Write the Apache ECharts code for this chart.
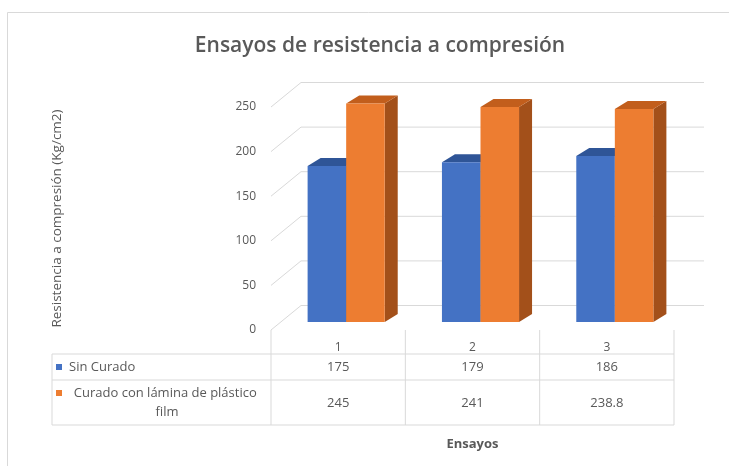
<!DOCTYPE html>
<html>
<head>
<meta charset="utf-8">
<script src="https://cdn.jsdelivr.net/npm/echarts@6/dist/echarts.min.js"></script>
<style>
  html, body { margin: 0; padding: 0; background: #fff; }
  #chart { width: 729px; height: 466px; }
</style>
</head>
<body>
<div id="chart"></div>
<script>
// Ensayos de resistencia a compresión — 3D clustered columns with a data table
const categories = ['1', '2', '3'];
const sinCurado = [175, 179, 186];
const curadoFilm = [245, 241, 238.8];
const seriesNames = ['Sin Curado', 'Curado con lámina de plástico film'];
const yTicks = [0, 50, 100, 150, 200, 250];

const FONT = '"Open Sans", sans-serif';
const TEXT = '#595959';
const LINE = '#d9d9d9';

// Oblique projection: offsets (px) from the front axis plane
const WALL_D = [30, -24.5];   // back wall
const BAR_FRONT = [8, -8];    // front face of the columns
const BAR_DEPTH = [13, -8];   // column depth
const BAR_W = 0.287;          // share of a category band per column

const palette = [
  { front: '#4472C4', top: '#2F5597', side: '#25477F' },
  { front: '#ED7D31', top: '#C25E1C', side: '#A3501A' }
];
const seriesValues = [sinCurado, curadoFilm];

// Data table geometry, relative to the bottom of the plot (px)
const TABLE_LEFT = 52;
const ROW_LINES = [24, 50, 95];
const ROW_TEXT = [37, 73];
const TABLE_FONT = '13px ' + FONT;

const chart = echarts.init(document.getElementById('chart'));

function wallItem(params, api) {
  const cs = params.coordSys;
  const y = api.coord([0, api.value(1)])[1];
  const left = cs.x, right = cs.x + cs.width;
  const bx = WALL_D[0], by = y + WALL_D[1];
  return {
    type: 'group',
    children: [
      { type: 'line', shape: { x1: left, y1: y, x2: left + bx, y2: by },
        style: { stroke: LINE, lineWidth: 1 } },
      { type: 'line', shape: { x1: left + bx, y1: by, x2: right + bx, y2: by },
        style: { stroke: LINE, lineWidth: 1 } }
    ]
  };
}

function columnItem(k) {
  return function (params, api) {
    const cat = api.value(0), v = api.value(1);
    const b = api.coord([cat, 0]);
    const t = api.coord([cat, v]);
    const w = api.size([1, 0])[0] * BAR_W;
    const x1 = b[0] + BAR_FRONT[0] + (k - 1) * w;
    const x2 = x1 + w;
    const yb = b[1] + BAR_FRONT[1];
    const yt = t[1] + BAR_FRONT[1];
    const dx = BAR_DEPTH[0], dy = BAR_DEPTH[1];
    const c = palette[k];
    return {
      type: 'group',
      children: [
        { type: 'polygon', shape: { points: [[x2, yb], [x2 + dx, yb + dy], [x2 + dx, yt + dy], [x2, yt]] },
          style: { fill: c.side } },
        { type: 'polygon', shape: { points: [[x1, yt], [x2, yt], [x2 + dx, yt + dy], [x1 + dx, yt + dy]] },
          style: { fill: c.top } },
        { type: 'rect', shape: { x: x1, y: yt, width: w, height: yb - yt },
          style: { fill: c.front } }
      ]
    };
  };
}

function tableItem(params, api) {
  const cs = params.coordSys;
  const cat = api.value(0);
  const base = cs.y + cs.height;
  const cx = api.coord([cat, 0])[0];
  const band = api.size([1, 0])[0];
  const right = cs.x + cs.width;
  const bottom = base + ROW_LINES[2];
  const children = [];
  const txt = (x, y, s, align) => ({
    type: 'text', x: x, y: y,
    style: { text: s, fill: TEXT, font: TABLE_FONT, align: align || 'center', verticalAlign: 'middle' }
  });
  const vline = (x, y1) => ({
    type: 'line', shape: { x1: x, y1: y1, x2: x, y2: bottom }, style: { stroke: LINE, lineWidth: 1 }
  });

  children.push(vline(cx + band / 2, base));
  children.push(txt(cx, base + ROW_TEXT[0], String(api.value(1))));
  children.push(txt(cx, base + ROW_TEXT[1], String(api.value(2))));

  if (params.dataIndex === 0) {
    ROW_LINES.forEach(function (dy) {
      children.push({ type: 'line', shape: { x1: TABLE_LEFT, y1: base + dy, x2: right, y2: base + dy },
        style: { stroke: LINE, lineWidth: 1 } });
    });
    children.push(vline(TABLE_LEFT, base + ROW_LINES[0]));
    children.push(vline(cs.x, base));
    // legend keys and series names in the first column
    children.push({ type: 'rect', shape: { x: TABLE_LEFT + 4, y: base + ROW_TEXT[0] - 3, width: 6, height: 6 },
      style: { fill: palette[0].front } });
    children.push(txt(TABLE_LEFT + 17, base + ROW_TEXT[0], seriesNames[0], 'left'));
    children.push({ type: 'rect', shape: { x: TABLE_LEFT + 4, y: base + ROW_TEXT[1] - 13, width: 6, height: 6 },
      style: { fill: palette[1].front } });
    children.push({
      type: 'text', x: (TABLE_LEFT + 17 + cs.x - 6) / 2, y: base + ROW_TEXT[1],
      style: { text: seriesNames[1], fill: TEXT, font: TABLE_FONT, align: 'center', verticalAlign: 'middle',
        width: 205, overflow: 'break', lineHeight: 19 }
    });
  }
  return { type: 'group', children: children };
}

chart.setOption({
  backgroundColor: '#ffffff',
  animation: false,
  title: {
    text: 'Ensayos de resistencia a compresión',
    left: 375, top: 31, textAlign: 'center',
    textStyle: { fontFamily: FONT, fontSize: 21, fontWeight: 600, color: TEXT }
  },
  graphic: [{
    type: 'rect', shape: { x: 7.5, y: 12.5, width: 740, height: 470 },
    style: { fill: 'none', stroke: LINE, lineWidth: 1 }, silent: true, z: -10
  }],
  grid: { left: 271, right: 55, top: 107, bottom: 136 },
  xAxis: {
    type: 'category',
    data: categories,
    axisLine: { show: false },
    axisTick: { show: false },
    axisLabel: { margin: 12, fontSize: 12, fontFamily: FONT, color: TEXT },
    name: 'Ensayos',
    nameLocation: 'middle',
    nameGap: 108,
    nameTextStyle: { fontFamily: FONT, fontSize: 13, fontWeight: 'bold', color: TEXT }
  },
  yAxis: {
    type: 'value',
    min: 0, max: 250, interval: 50,
    axisLine: { show: false },
    axisTick: { show: false },
    splitLine: { show: false },
    axisLabel: { margin: 15, fontSize: 12, fontFamily: FONT, color: TEXT },
    name: 'Resistencia a compresión (Kg/cm2)',
    nameLocation: 'middle',
    nameGap: 207,
    nameTextStyle: { fontFamily: FONT, fontSize: 13.5, color: TEXT }
  },
  series: [
    { type: 'custom', name: 'walls', renderItem: wallItem, z: 1,
      data: yTicks.map(function (v) { return [0, v]; }) },
    { type: 'custom', name: seriesNames[0], renderItem: columnItem(0), z: 2,
      data: sinCurado.map(function (v, i) { return [i, v]; }) },
    { type: 'custom', name: seriesNames[1], renderItem: columnItem(1), z: 3,
      data: curadoFilm.map(function (v, i) { return [i, v]; }) },
    { type: 'custom', name: 'table', renderItem: tableItem, z: 4,
      encode: { x: 0, y: 1 },
      data: categories.map(function (c, i) { return [i, seriesValues[0][i], seriesValues[1][i]]; }) }
  ]
});
</script>
</body>
</html>
